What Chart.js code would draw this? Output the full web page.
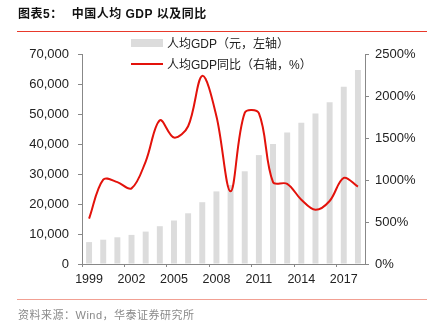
<!DOCTYPE html>
<html lang="zh">
<head>
<meta charset="UTF-8">
<title>中国人均GDP以及同比</title>
<script src="https://cdn.jsdelivr.net/npm/chart.js"></script>
<style>
  body {
    margin: 0;
    width: 430px;
    height: 325px;
    position: relative;
    overflow: hidden;
    background: #fff;
    font-family: 'Liberation Sans', Arial, 'Noto Sans CJK SC', sans-serif;
  }
  #chart { position: absolute; left: 0; top: 0; }
  .over { position: absolute; z-index: 2; white-space: nowrap; }
  #title { left: 18px; top: 4px; font-size: 12px; font-weight: bold; color: #111; letter-spacing: 0.5px; }
  #title .num { margin-right: 9px; }
  #topline { left: 17px; top: 31px; width: 410px; height: 1px; background: #e8392b; }
  #botline { left: 17px; top: 299px; width: 410px; height: 1px; background: #f2a093; }
  #source { left: 18px; top: 306px; font-size: 11px; color: #8a8a8a; letter-spacing: 0.5px; }
  .legend-row { left: 131px; font-size: 12px; color: #222; display: flex; align-items: center; }
  .legend-row .mark { width: 32px; margin-right: 4px; }
  #leg1 { top: 34px; }
  #leg1 .mark { height: 8px; background: #dcdcdc; }
  #leg2 { top: 55px; }
  #leg2 .mark { height: 2px; background: #e3120b; }
</style>
</head>
<body>
  <div id="title" class="over"><span class="num">图表5：</span>中国人均 GDP 以及同比</div>
  <div id="topline" class="over"></div>
  <div id="leg1" class="over legend-row"><span class="mark"></span>人均GDP（元，左轴）</div>
  <div id="leg2" class="over legend-row"><span class="mark"></span>人均GDP同比（右轴，%）</div>
  <canvas id="chart" width="430" height="325"></canvas>
  <div id="botline" class="over"></div>
  <div id="source" class="over">资料来源：Wind，华泰证券研究所</div>

  <script>
    // data
    const years = ['1999', '2000', '2001', '2002', '2003', '2004', '2005', '2006', '2007', '2008',
                   '2009', '2010', '2011', '2012', '2013', '2014', '2015', '2016', '2017', '2018'];
    const gdpPerCapita = [7300, 8100, 8900, 9700, 10800, 12600, 14500, 16900, 20600, 24200,
                          26300, 30900, 36300, 40000, 43800, 47100, 50200, 53900, 59100, 64700];
    const gdpGrowth = [540, 1005, 975, 900, 1220, 1710, 1505, 1640, 2240, 1760,
                       865, 1800, 1795, 975, 955, 765, 645, 750, 1025, 920];

    const axisColor = '#888';
    const tickFont = { family: "'Liberation Sans', Arial, sans-serif", size: 13 };

    new Chart(document.getElementById('chart'), {
      data: {
        labels: years,
        datasets: [
          {
            type: 'line',
            label: '人均GDP同比（右轴，%）',
            data: gdpGrowth,
            yAxisID: 'y1',
            borderColor: '#e3120b',
            borderWidth: 2,
            pointRadius: 0,
            tension: 0.35,
            order: 1
          },
          {
            type: 'bar',
            label: '人均GDP（元，左轴）',
            data: gdpPerCapita,
            yAxisID: 'y',
            backgroundColor: '#dcdcdc',
            categoryPercentage: 1,
            barPercentage: 0.42,
            order: 2
          }
        ]
      },
      options: {
        responsive: false,
        animation: false,
        layout: { padding: { top: 54, left: 0, right: 0, bottom: 0 } },
        plugins: {
          legend: { display: false },
          tooltip: { enabled: false }
        },
        scales: {
          x: {
            offset: true,
            grid: {
              offset: true,
              drawOnChartArea: false,
              tickLength: 3,
              color: (ctx) => ctx.index % 3 === 0 ? axisColor : 'rgba(0,0,0,0)'
            },
            border: { color: axisColor },
            ticks: {
              autoSkip: false,
              maxRotation: 0,
              padding: 5,
              color: '#222',
              font: { family: tickFont.family, size: 12.5 },
              callback: (v, i) => i % 3 === 0 ? years[i] : ''
            },
            afterFit: (s) => { s.height = 61; }
          },
          y: {
            position: 'left',
            min: 0,
            max: 70000,
            grid: { drawOnChartArea: false, tickLength: 4, color: axisColor },
            border: { color: axisColor },
            ticks: {
              stepSize: 10000,
              padding: 9,
              color: '#222',
              font: tickFont,
              callback: (v) => v.toLocaleString('en-US')
            },
            afterFit: (s) => { s.width = 82; }
          },
          y1: {
            position: 'right',
            min: 0,
            max: 2500,
            grid: { drawOnChartArea: false, tickLength: 4, color: axisColor },
            border: { color: axisColor },
            ticks: {
              stepSize: 500,
              padding: 6,
              color: '#222',
              font: tickFont,
              callback: (v) => v + '%'
            },
            afterFit: (s) => { s.width = 65; }
          }
        }
      }
    });
  </script>
</body>
</html>
